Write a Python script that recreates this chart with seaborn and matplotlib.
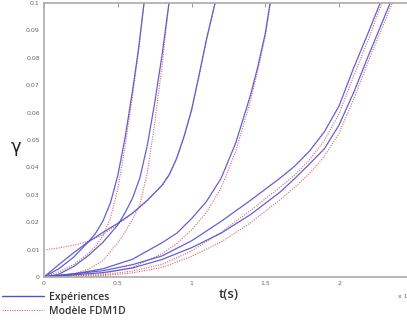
import matplotlib
matplotlib.use("Agg")
import matplotlib.pyplot as plt
import seaborn as sns
import pandas as pd
from matplotlib.lines import Line2D

# ---- data (t in s, gamma) ----
exp1_t = [0, 0.1, 0.2, 0.3, 0.35, 0.4, 0.45, 0.5, 0.55, 0.6, 0.64, 0.678]
exp1_g = [0, 0.003, 0.0072, 0.0128, 0.016, 0.0205, 0.027, 0.037, 0.051, 0.068, 0.083, 0.1]
exp2_t = [0, 0.1, 0.2, 0.3, 0.4, 0.5, 0.55, 0.6, 0.65, 0.7, 0.75, 0.8, 0.847]
exp2_g = [0, 0.001, 0.0038, 0.0078, 0.0127, 0.019, 0.0235, 0.0288, 0.0362, 0.048, 0.0635, 0.081, 0.1]
exp3_t = [0, 0.1, 0.2, 0.3, 0.4, 0.5, 0.6, 0.7, 0.8, 0.85, 0.9, 0.95, 1.0, 1.05, 1.1, 1.159]
exp3_g = [0, 0.0045, 0.0088, 0.0128, 0.0163, 0.0196, 0.0233, 0.028, 0.0335, 0.0375, 0.0435, 0.0515,
          0.061, 0.0735, 0.0865, 0.1]
exp4_t = [0, 0.2, 0.4, 0.6, 0.8, 0.9, 1.0, 1.1, 1.2, 1.3, 1.4, 1.45, 1.5, 1.532]
exp4_g = [0, 0.0011, 0.003, 0.0065, 0.0125, 0.016, 0.0213, 0.0275, 0.036, 0.049, 0.0665, 0.077,
          0.089, 0.1]
exp5_t = [0, 0.4, 0.6, 0.8, 1.0, 1.2, 1.4, 1.6, 1.7, 1.8, 1.9, 2.0, 2.1, 2.2, 2.278]
exp5_g = [0, 0.0023, 0.0045, 0.0077, 0.0132, 0.0203, 0.028, 0.0361, 0.0405, 0.046, 0.053, 0.0625,
          0.0765, 0.0895, 0.1]
exp6_t = [0, 0.4, 0.6, 0.8, 1.0, 1.2, 1.4, 1.6, 1.7, 1.8, 1.9, 2.0, 2.1, 2.2, 2.3, 2.346]
exp6_g = [0, 0.0016, 0.0033, 0.0064, 0.0107, 0.016, 0.0228, 0.031, 0.036, 0.0413, 0.0468, 0.0555,
          0.0675, 0.081, 0.094, 0.1]

mod1_t = [0, 0.1, 0.2, 0.3, 0.35, 0.4, 0.45, 0.5, 0.55, 0.6, 0.64, 0.678]
mod1_g = [0, 0.0018, 0.0045, 0.0085, 0.0112, 0.015, 0.0215, 0.032, 0.048, 0.066, 0.082, 0.1]
mod2_t = [0, 0.2, 0.3, 0.4, 0.5, 0.55, 0.6, 0.65, 0.7, 0.75, 0.8, 0.847]
mod2_g = [0, 0.0012, 0.0028, 0.006, 0.0125, 0.0165, 0.021, 0.0265, 0.038, 0.056, 0.077, 0.1]
mod3_t = [0, 0.1, 0.2, 0.3, 0.4, 0.5, 0.6, 0.7, 0.8, 0.85, 0.9, 0.95, 1.0, 1.05, 1.1, 1.16]
mod3_g = [0.0099, 0.0106, 0.0116, 0.013, 0.0155, 0.0193, 0.0232, 0.0278, 0.0333, 0.0373, 0.0432,
          0.0512, 0.0607, 0.073, 0.086, 0.1]
mod4_t = [0, 0.4, 0.6, 0.8, 0.9, 1.0, 1.1, 1.2, 1.3, 1.4, 1.45, 1.5, 1.535]
mod4_g = [0, 0.0012, 0.0035, 0.0085, 0.0122, 0.0172, 0.0235, 0.0325, 0.046, 0.0645, 0.0755, 0.088, 0.1]
mod5_t = [0, 0.4, 0.6, 0.8, 1.0, 1.2, 1.4, 1.6, 1.7, 1.8, 1.9, 2.0, 2.1, 2.2, 2.29]
mod5_g = [0, 0.0008, 0.0022, 0.0046, 0.0095, 0.0163, 0.0243, 0.0328, 0.0373, 0.0428, 0.0498, 0.0597,
          0.0735, 0.087, 0.1]
mod6_t = [0, 0.4, 0.6, 0.8, 1.0, 1.2, 1.4, 1.6, 1.7, 1.8, 1.9, 2.0, 2.1, 2.2, 2.3, 2.36]
mod6_g = [0, 0.0005, 0.0015, 0.0035, 0.0075, 0.0128, 0.0198, 0.0282, 0.0328, 0.0378, 0.044, 0.0525,
          0.065, 0.079, 0.092, 0.1]

y_ticks = [0, 0.01, 0.02, 0.03, 0.04, 0.05, 0.06, 0.07, 0.08, 0.09, 0.1]
y_ticklabels = ["0", "0.01", "0.02", "0.03", "0.04", "0.05", "0.06", "0.07", "0.08", "0.09", "0.1"]
x_ticks = [0, 0.5, 1, 1.5, 2]
x_ticklabels = ["0", "0.5", "1", "1.5", "2"]
legend_labels = ["Expériences", "Modèle FDM1D"]

exp_curves = [(exp1_t, exp1_g), (exp2_t, exp2_g), (exp3_t, exp3_g),
              (exp4_t, exp4_g), (exp5_t, exp5_g), (exp6_t, exp6_g)]
mod_curves = [(mod1_t, mod1_g), (mod2_t, mod2_g), (mod3_t, mod3_g),
              (mod4_t, mod4_g), (mod5_t, mod5_g), (mod6_t, mod6_g)]

BLUE = "#5050d0"
RED = "#d9666a"

sns.set_style("white")
fig = plt.figure(figsize=(4.07, 3.24), dpi=100)
ax = fig.add_axes([44 / 407, 47 / 324, 1 - 44 / 407, 274 / 324])

for t, g in mod_curves:
    df = pd.DataFrame({"t": t, "g": g})
    sns.lineplot(data=df, x="t", y="g", ax=ax, color=RED, lw=0.8,
                 linestyle=(0, (1, 1.2)), estimator=None, sort=False)
for t, g in exp_curves:
    df = pd.DataFrame({"t": t, "g": g})
    sns.lineplot(data=df, x="t", y="g", ax=ax, color=BLUE, lw=0.9, alpha=0.9,
                 estimator=None, sort=False)

ax.set_xlim(0, 2.46)
ax.set_ylim(0, 0.1)
ax.set_xticks(x_ticks)
ax.set_xticklabels(x_ticklabels)
ax.set_yticks(y_ticks)
ax.set_yticklabels(y_ticklabels)
ax.tick_params(direction="in", length=3, width=0.6, colors="#888888",
               labelsize=4.5, labelcolor="#666666", top=True, pad=3)
for s in ["left", "bottom", "top"]:
    ax.spines[s].set_color("#aaaaaa")
    ax.spines[s].set_linewidth(1.2)
ax.spines["right"].set_visible(False)
ax.set_xlabel("")
ax.set_ylabel("")

fig.text(16 / 407, 1 - 147 / 324, "γ", fontsize=13, ha="center", va="center",
         color="#222222", family="DejaVu Sans")
fig.text(229 / 407, 1 - 295 / 324, "t(s)", fontsize=9.5, ha="center", va="center",
         color="#333333", family="Open Sans", weight="semibold")
fig.text(398 / 407, 1 - 296 / 324, "x 1", fontsize=4.5, ha="left", va="center",
         color="#666666")

handles = [Line2D([0], [0], color=BLUE, lw=1.0),
           Line2D([0], [0], color=RED, lw=0.8, linestyle=(0, (1, 1.2)))]
fig.legend(handles, legend_labels, loc="upper left", bbox_to_anchor=(0.0, 1 - 290 / 324),
           frameon=False, handlelength=4.0, handletextpad=0.5, labelspacing=0.25,
           prop={"family": "Open Sans", "size": 7.5, "weight": "semibold"},
           labelcolor="#333333", borderaxespad=0, borderpad=0.2)

fig.savefig("out.png", dpi=100)
